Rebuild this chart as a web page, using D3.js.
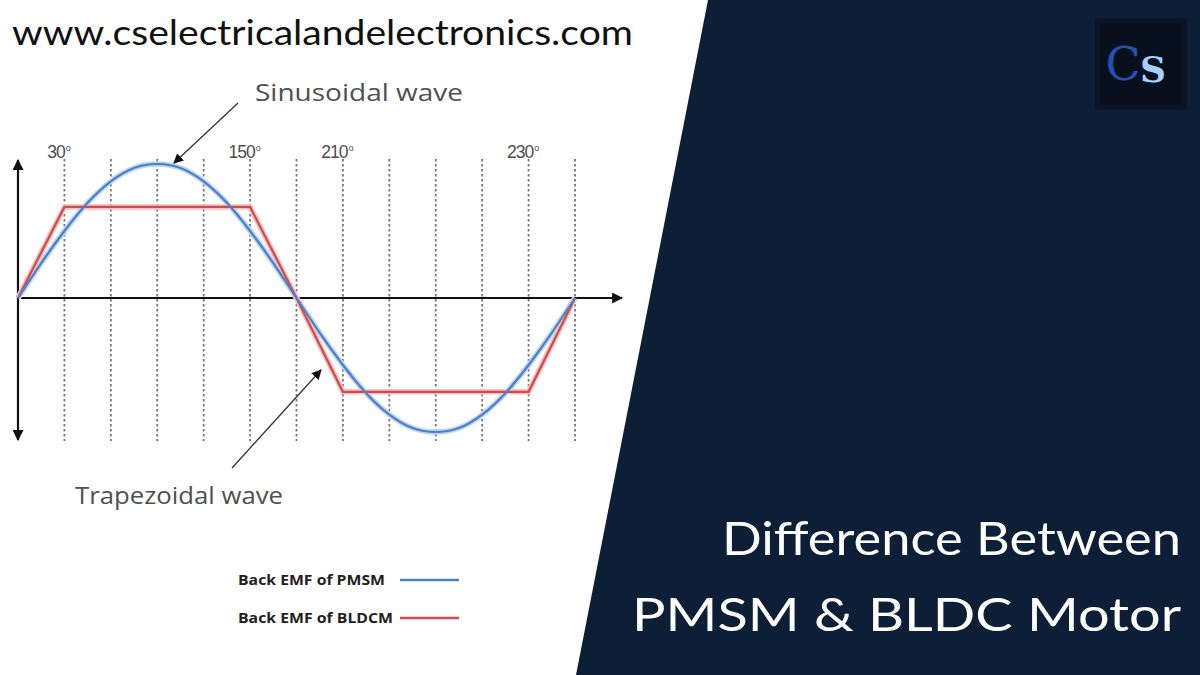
<!DOCTYPE html>
<html>
<head>
<meta charset="utf-8">
<script src="https://cdn.jsdelivr.net/npm/d3@7"></script>
<style>
  body { margin: 0; background: #fff; }
  svg { display: block; }
</style>
</head>
<body>
<div class="canva"></div>
<script>
// angles in degrees for the dashed grid (every 30)
const gridAngles = [0, 30, 60, 90, 120, 150, 180, 210, 240, 270, 300, 330, 360];
// labels shown above some of the grid lines (as printed in the picture)
const tickAngles = [30, 150, 210, 330];
const tickLabels = ["30", "150", "210", "230"];

// back EMF of PMSM, every 15 degrees (peak = 1)
const pmsmAngles = [0, 15, 30, 45, 60, 75, 90, 105, 120, 135, 150, 165, 180,
                    195, 210, 225, 240, 255, 270, 285, 300, 315, 330, 345, 360];
const pmsmValues = [0, 0.26, 0.5, 0.71, 0.87, 0.97, 1, 0.97, 0.87, 0.71, 0.5, 0.26, 0,
                    -0.26, -0.5, -0.71, -0.87, -0.97, -1, -0.97, -0.87, -0.71, -0.5, -0.26, 0];

// back EMF of BLDCM (trapezoid corners)
const bldcAngles = [0, 30, 150, 180, 210, 330, 360];
const bldcValues = [0, 0.68, 0.68, 0, -0.7, -0.7, 0];

const legendNames = ["Back EMF of PMSM", "Back EMF of BLDCM"];
const legendColors = ["#4a80c4", "#cf4b4f"];

const width = 1200, height = 675;

const svg = d3.select(".canva").append("svg")
    .attr("width", width)
    .attr("height", height);

const defs = svg.append("defs");
defs.append("marker")
    .attr("id", "axisArrow")
    .attr("viewBox", "0 0 10 10")
    .attr("refX", 9).attr("refY", 5)
    .attr("markerWidth", 5).attr("markerHeight", 5)
    .attr("orient", "auto-start-reverse")
  .append("path")
    .attr("d", "M0,0L10,5L0,10z")
    .attr("fill", "#111");
defs.append("marker")
    .attr("id", "noteArrow")
    .attr("viewBox", "0 0 10 10")
    .attr("refX", 9).attr("refY", 5)
    .attr("markerWidth", 10).attr("markerHeight", 10)
    .attr("markerUnits", "userSpaceOnUse")
    .attr("orient", "auto")
  .append("path")
    .attr("d", "M0,0L10,5L0,10z")
    .attr("fill", "#111");

// scales
const x = d3.scaleLinear().domain([0, 360]).range([18, 575]);
const y = d3.scaleLinear().domain([-1, 1]).range([432, 164]);

const chart = svg.append("g");

// dashed grid
chart.selectAll(".grid")
  .data(gridAngles.slice(1))
  .enter()
  .append("line")
    .attr("class", "grid")
    .attr("x1", d => x(d)).attr("x2", d => x(d))
    .attr("y1", 159).attr("y2", 441)
    .attr("stroke", "#777")
    .attr("stroke-width", 1.8)
    .attr("stroke-dasharray", "2.5,2.5");

// tick labels
const tl = chart.selectAll(".tick-label")
  .data(tickAngles)
  .enter()
  .append("text")
    .attr("class", "tick-label")
    .attr("x", d => x(d) - 6)
    .attr("y", 158)
    .attr("text-anchor", "middle")
    .attr("font-family", "Liberation Sans, Arial, sans-serif")
    .attr("font-size", 17.5)
    .attr("letter-spacing", -1)
    .attr("fill", "#4d4d4d");
tl.append("tspan").text((d, i) => tickLabels[i]);
tl.append("tspan").attr("font-size", 9).attr("dy", -7).attr("dx", 1).text("o");

// axes
chart.append("line")
    .attr("x1", x(0)).attr("x2", x(0))
    .attr("y1", 160).attr("y2", 440)
    .attr("stroke", "#111").attr("stroke-width", 2.2)
    .attr("marker-start", "url(#axisArrow)")
    .attr("marker-end", "url(#axisArrow)");
chart.append("line")
    .attr("x1", x(0)).attr("x2", 622)
    .attr("y1", y(0)).attr("y2", y(0))
    .attr("stroke", "#111").attr("stroke-width", 2.2)
    .attr("marker-end", "url(#axisArrow)");

// series
const sineLine = d3.line()
    .x((d, i) => x(pmsmAngles[i]))
    .y(d => y(d))
    .curve(d3.curveNatural);
const trapLine = d3.line()
    .x((d, i) => x(bldcAngles[i]))
    .y(d => y(d));

// soft halo like the blurred source
chart.append("path").attr("d", sineLine(pmsmValues))
    .attr("fill", "none").attr("stroke", "#bcd5f2").attr("stroke-width", 5.5);
chart.append("path").attr("d", trapLine(bldcValues))
    .attr("fill", "none").attr("stroke", "#f4c0c0").attr("stroke-width", 5.5);
chart.append("path").attr("d", trapLine(bldcValues))
    .attr("fill", "none").attr("stroke", legendColors[1]).attr("stroke-width", 2.2);
chart.append("path").attr("d", sineLine(pmsmValues))
    .attr("fill", "none").attr("stroke", legendColors[0]).attr("stroke-width", 2.2);

// annotations
chart.append("line")
    .attr("x1", 238).attr("y1", 103).attr("x2", 174).attr("y2", 163)
    .attr("stroke", "#333").attr("stroke-width", 1.3)
    .attr("marker-end", "url(#noteArrow)");
chart.append("text")
    .attr("x", 255).attr("y", 101)
    .attr("font-family", "Open Sans, sans-serif")
    .attr("font-size", 24)
    .attr("textLength", 208)
    .attr("lengthAdjust", "spacingAndGlyphs")
    .attr("fill", "#505050")
    .text("Sinusoidal wave");

chart.append("line")
    .attr("x1", 232).attr("y1", 468).attr("x2", 321).attr("y2", 370)
    .attr("stroke", "#333").attr("stroke-width", 1.3)
    .attr("marker-end", "url(#noteArrow)");
chart.append("text")
    .attr("x", 75).attr("y", 504)
    .attr("font-family", "Open Sans, sans-serif")
    .attr("font-size", 24)
    .attr("textLength", 208)
    .attr("lengthAdjust", "spacingAndGlyphs")
    .attr("fill", "#505050")
    .text("Trapezoidal wave");

// legend
const legendWidths = [147, 155];
const legend = svg.append("g");
legend.selectAll("text")
  .data(legendNames)
  .enter()
  .append("text")
    .attr("x", 238)
    .attr("y", (d, i) => 585 + i * 38)
    .attr("font-family", "Open Sans, sans-serif")
    .attr("font-weight", "bold")
    .attr("font-size", 14.5)
    .attr("textLength", (d, i) => legendWidths[i])
    .attr("lengthAdjust", "spacingAndGlyphs")
    .attr("fill", "#222")
    .text(d => d);
legend.selectAll("line")
  .data(legendNames)
  .enter()
  .append("line")
    .attr("x1", 400).attr("x2", 459)
    .attr("y1", (d, i) => 580 + i * 38)
    .attr("y2", (d, i) => 580 + i * 38)
    .attr("stroke", (d, i) => legendColors[i])
    .attr("stroke-width", 2.5);

// website url
svg.append("text")
    .attr("x", 12).attr("y", 45)
    .attr("font-family", "Lato, sans-serif")
    .attr("font-size", 35)
    .attr("textLength", 621)
    .attr("lengthAdjust", "spacingAndGlyphs")
    .attr("fill", "#111")
    .text("www.cselectricalandelectronics.com");

// dark navy panel
svg.append("path")
    .attr("d", "M708,0L1200,0L1200,675L576,675Z")
    .attr("fill", "#0c1f37");

// logo
const logo = svg.append("g").attr("transform", "translate(1095,18)");
logo.append("rect").attr("width", 92).attr("height", 92).attr("fill", "#0a1526");
logo.append("rect").attr("x", 5).attr("y", 5).attr("width", 82).attr("height", 82).attr("fill", "#08101e");
logo.append("text").attr("x", 28).attr("y", 62)
    .attr("font-family", "DejaVu Serif, serif").attr("font-size", 46)
    .attr("fill", "#2450b0").attr("text-anchor", "middle").text("C");
logo.append("text").attr("x", 58).attr("y", 64)
    .attr("font-family", "DejaVu Serif, serif").attr("font-weight", "bold").attr("font-size", 36)
    .attr("fill", "#a6d0ff").attr("text-anchor", "middle").text("S");

// title
const titleLines = ["Difference Between", "PMSM & BLDC Motor"];
const titleLeft = [722, 632];
const titleBase = [555, 631];
svg.selectAll(".title")
  .data(titleLines)
  .enter()
  .append("text")
    .attr("class", "title")
    .attr("x", (d, i) => titleLeft[i])
    .attr("y", (d, i) => titleBase[i])
    .attr("font-family", "Lato, sans-serif")
    .attr("font-size", 46)
    .attr("textLength", (d, i) => 1181 - titleLeft[i])
    .attr("lengthAdjust", "spacingAndGlyphs")
    .attr("fill", "#fff")
    .text(d => d);
</script>
</body>
</html>
